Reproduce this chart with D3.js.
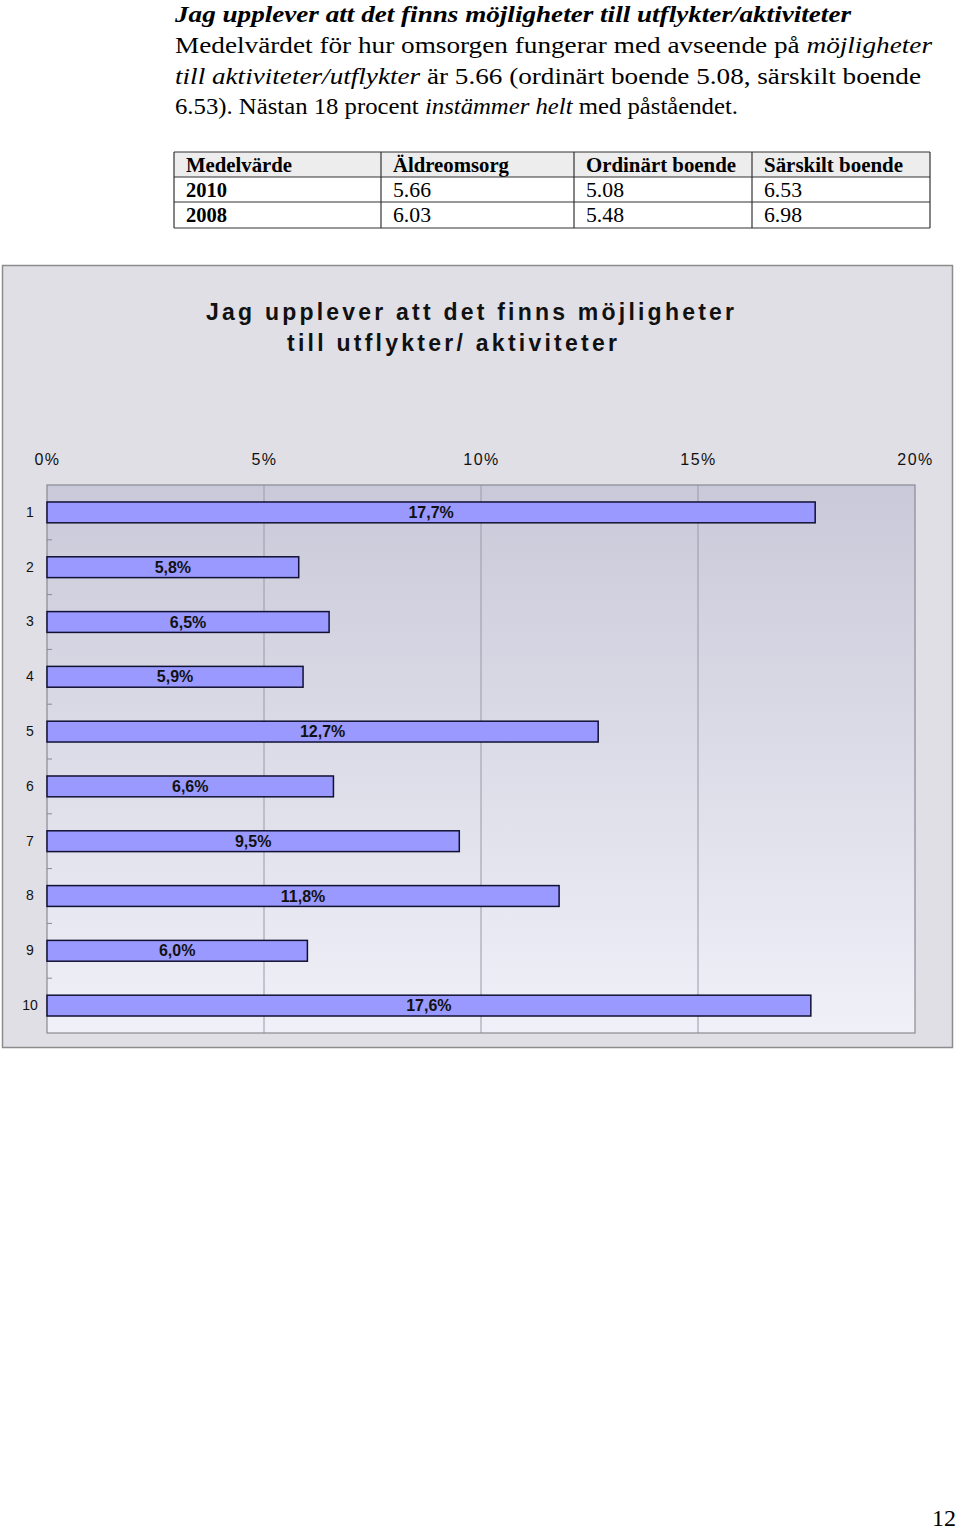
<!DOCTYPE html>
<html><head><meta charset="utf-8">
<script src="https://cdn.jsdelivr.net/npm/d3@7"></script>
<style>body{margin:0;background:#fff}svg{display:block}</style>
</head><body>
<script>
const categories = ["1","2","3","4","5","6","7","8","9","10"];
const values = [17.7, 5.8, 6.5, 5.9, 12.7, 6.6, 9.5, 11.8, 6.0, 17.6];
const tickValues = [0, 5, 10, 15, 20];
const tableHeader = ["Medelvärde","Äldreomsorg","Ordinärt boende","Särskilt boende"];
const tableRows = [["2010","5.66","5.08","6.53"],["2008","6.03","5.48","6.98"]];
const chartTitle = ["Jag upplever att det finns möjligheter","till utflykter/ aktiviteter"];

const W = 960, H = 1530;
const svg = d3.select("body").append("svg").attr("width", W).attr("height", H);

const serif = "'Liberation Serif','Times New Roman',serif";
const sans = "'Liberation Sans',Arial,Helvetica,sans-serif";

// ---- Text section ----
function richLine(y, parts, width) {
  const t = svg.append("text").attr("x", 175).attr("y", y)
    .attr("font-family", serif).attr("font-size", 24).attr("fill", "#000")
    .attr("textLength", width).attr("lengthAdjust", "spacingAndGlyphs");
  parts.forEach(p => {
    t.append("tspan").text(p[0])
      .attr("font-style", p[1] ? "italic" : "normal")
      .attr("font-weight", p[2] ? "bold" : "normal");
  });
}
richLine(22, [["Jag upplever att det finns möjligheter till utflykter/aktiviteter", true, true]], 676);
richLine(53, [["Medelvärdet för hur omsorgen fungerar med avseende på ", false], ["möjligheter", true]], 757);
richLine(83.5, [["till aktiviteter/utflykter", true], [" är 5.66 (ordinärt boende 5.08, särskilt boende", false]], 746);
richLine(114, [["6.53). Nästan 18 procent ", false], ["instämmer helt", true], [" med påståendet.", false]], 563);

// ---- Table ----
const colX = [174, 381, 574, 752, 930];
const rowY = [152, 177, 202, 228];
const tbl = svg.append("g");
tbl.append("rect").attr("x", colX[0]).attr("y", rowY[0]).attr("width", colX[4]-colX[0]).attr("height", rowY[1]-rowY[0]).attr("fill", "#ededed");
const headW = [106, 116, 150, 139];
tableHeader.forEach((h, i) => {
  tbl.append("text").attr("x", colX[i] + 12).attr("y", rowY[0] + 20)
    .attr("font-family", serif).attr("font-size", 21).attr("font-weight", "bold")
    .attr("textLength", headW[i]).attr("lengthAdjust", "spacingAndGlyphs").text(h);
});
tableRows.forEach((r, ri) => {
  r.forEach((c, i) => {
    tbl.append("text").attr("x", colX[i] + 12).attr("y", rowY[ri+1] + 20)
      .attr("font-family", serif).attr("font-size", 21).attr("font-weight", i === 0 ? "bold" : "normal")
      .attr("textLength", i === 0 ? 41 : 38).attr("lengthAdjust", "spacingAndGlyphs").text(c);
  });
});
rowY.forEach(y => tbl.append("line").attr("x1", colX[0]).attr("x2", colX[4]).attr("y1", y).attr("y2", y).attr("stroke", "#333").attr("stroke-width", 1.2));
colX.forEach(x => tbl.append("line").attr("x1", x).attr("x2", x).attr("y1", rowY[0]).attr("y2", rowY[3]).attr("stroke", "#333").attr("stroke-width", 1.2));

// ---- Chart ----
const defs = svg.append("defs");
const grad = defs.append("linearGradient").attr("id", "plotGrad").attr("x1", 0).attr("y1", 0).attr("x2", 0).attr("y2", 1);
grad.append("stop").attr("offset", "0%").attr("stop-color", "#c9c9d9");
grad.append("stop").attr("offset", "100%").attr("stop-color", "#f0f0f8");

svg.append("rect").attr("x", 2.5).attr("y", 265.5).attr("width", 950).attr("height", 782)
  .attr("fill", "#e0dfe5").attr("stroke", "#8c8c8c").attr("stroke-width", 1.5);

svg.selectAll("text.ct").data(chartTitle).join("text").attr("class", "ct")
  .attr("x", (d, i) => i === 0 ? 206 : 287).attr("y", (d, i) => 320 + i * 31)
  .attr("font-family", sans).attr("font-size", 23).attr("font-weight", "bold").attr("fill", "#111")
  .attr("textLength", (d, i) => i === 0 ? 528 : 330).attr("lengthAdjust", "spacing")
  .text(d => d);

const plot = {x0: 47, x1: 915, y0: 485, y1: 1033};
const x = d3.scaleLinear().domain([0, 20]).range([plot.x0, plot.x1]);
const y = d3.scaleBand().domain(categories).range([plot.y0, plot.y1]).paddingInner(0.62).paddingOuter(0.31);
const yb = d3.scaleBand().domain(categories).range([plot.y0, plot.y1]);

svg.append("rect").attr("x", plot.x0).attr("y", plot.y0).attr("width", plot.x1 - plot.x0).attr("height", plot.y1 - plot.y0)
  .attr("fill", "url(#plotGrad)");

// gridlines
svg.append("g").selectAll("line").data(tickValues.slice(1, -1)).join("line")
  .attr("x1", d => x(d)).attr("x2", d => x(d)).attr("y1", plot.y0).attr("y2", plot.y1)
  .attr("stroke", "#9a9aa6").attr("stroke-width", 1);

svg.append("rect").attr("x", plot.x0).attr("y", plot.y0).attr("width", plot.x1 - plot.x0).attr("height", plot.y1 - plot.y0)
  .attr("fill", "none").attr("stroke", "#8a8a94").attr("stroke-width", 1.2);

// top axis labels
const xAxis = d3.axisTop(x).tickValues(tickValues).tickSize(0).tickFormat(d => d + "%");
const gx = svg.append("g").attr("transform", `translate(0,${465})`).call(xAxis);
gx.select(".domain").remove();
gx.selectAll("text").attr("font-family", sans).attr("font-size", 16).attr("letter-spacing", "1.5px")
  .attr("fill", "#111").attr("dy", 0).attr("y", 0);

// left category labels and small ticks
const yAxis = d3.axisLeft(y).tickSize(0).tickPadding(0);
const gy = svg.append("g").attr("transform", `translate(36,0)`).call(yAxis);
gy.select(".domain").remove();
gy.selectAll("text").attr("font-family", sans).attr("font-size", 14).attr("fill", "#111").attr("text-anchor", "middle").attr("x", -6);

svg.append("g").selectAll("line").data(categories.slice(0, -1)).join("line")
  .attr("x1", plot.x0).attr("x2", plot.x0 + 5)
  .attr("y1", d => yb(d) + yb.bandwidth()).attr("y2", d => yb(d) + yb.bandwidth())
  .attr("stroke", "#8a8a94").attr("stroke-width", 1);

// bars
svg.append("g").selectAll("rect").data(values).join("rect")
  .attr("x", x(0)).attr("y", (d, i) => y(categories[i]))
  .attr("width", d => x(d) - x(0)).attr("height", y.bandwidth())
  .attr("fill", "#9999ff").attr("stroke", "#111133").attr("stroke-width", 1.5);

svg.append("g").selectAll("text").data(values).join("text")
  .attr("x", d => (x(0) + x(d)) / 2).attr("y", (d, i) => y(categories[i]) + y.bandwidth() / 2 + 5.5)
  .attr("text-anchor", "middle").attr("font-family", sans).attr("font-size", 16).attr("font-weight", "bold").attr("fill", "#111")
  .text(d => d.toFixed(1).replace(".", ",") + "%");

// page number
svg.append("text").attr("x", 956).attr("y", 1526).attr("text-anchor", "end")
  .attr("font-family", serif).attr("font-size", 24).text("12");
</script>
</body></html>
